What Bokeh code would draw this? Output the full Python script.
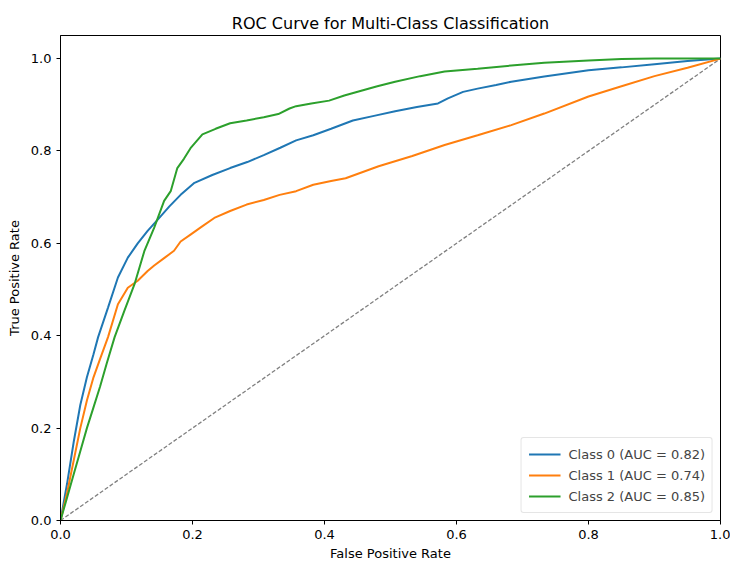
from bokeh.plotting import figure
from bokeh.models import Range1d, FixedTicker, PrintfTickFormatter, Legend, LegendItem
from bokeh.embed import file_html
from bokeh.resources import INLINE

fpr0 = [0, 0.01, 0.02, 0.03, 0.04, 0.05, 0.057, 0.072, 0.087, 0.102, 0.117, 0.132, 0.147, 0.165, 0.182, 0.203, 0.23, 0.257, 0.283, 0.308, 0.333, 0.357, 0.383, 0.41, 0.443, 0.475, 0.507, 0.54, 0.572, 0.587, 0.61, 0.632, 0.66, 0.683, 0.733, 0.8, 0.85, 0.9, 0.95, 1.0]
tpr0 = [0, 0.08, 0.17, 0.25, 0.31, 0.36, 0.397, 0.461, 0.526, 0.569, 0.60, 0.627, 0.651, 0.68, 0.705, 0.731, 0.748, 0.763, 0.776, 0.791, 0.807, 0.823, 0.834, 0.848, 0.866, 0.876, 0.886, 0.895, 0.903, 0.914, 0.928, 0.935, 0.943, 0.950, 0.961, 0.975, 0.981, 0.988, 0.995, 1.0]

fpr1 = [0, 0.01, 0.02, 0.03, 0.04, 0.05, 0.06, 0.072, 0.087, 0.102, 0.117, 0.132, 0.142, 0.157, 0.172, 0.182, 0.197, 0.213, 0.233, 0.257, 0.282, 0.308, 0.332, 0.357, 0.383, 0.41, 0.432, 0.482, 0.533, 0.582, 0.632, 0.683, 0.733, 0.8, 0.85, 0.9, 0.95, 1.0]
tpr1 = [0, 0.06, 0.13, 0.2, 0.26, 0.31, 0.35, 0.397, 0.468, 0.504, 0.519, 0.54, 0.552, 0.568, 0.584, 0.604, 0.619, 0.635, 0.655, 0.670, 0.684, 0.694, 0.705, 0.713, 0.727, 0.735, 0.741, 0.767, 0.789, 0.813, 0.834, 0.856, 0.881, 0.918, 0.94, 0.962, 0.98, 1.0]

fpr2 = [0, 0.01, 0.02, 0.03, 0.04, 0.05, 0.06, 0.07, 0.082, 0.097, 0.112, 0.127, 0.142, 0.157, 0.167, 0.177, 0.187, 0.197, 0.215, 0.235, 0.257, 0.282, 0.308, 0.33, 0.347, 0.357, 0.38, 0.407, 0.43, 0.457, 0.48, 0.507, 0.545, 0.582, 0.632, 0.683, 0.733, 0.8, 0.85, 0.9, 1.0]
tpr2 = [0, 0.05, 0.1, 0.15, 0.2, 0.245, 0.29, 0.34, 0.397, 0.455, 0.511, 0.583, 0.634, 0.692, 0.713, 0.763, 0.783, 0.806, 0.836, 0.848, 0.860, 0.866, 0.873, 0.88, 0.892, 0.897, 0.903, 0.909, 0.92, 0.931, 0.94, 0.950, 0.962, 0.972, 0.978, 0.985, 0.991, 0.996, 0.999, 1.0, 1.0]

labels = ["Class 0 (AUC = 0.82)", "Class 1 (AUC = 0.74)", "Class 2 (AUC = 0.85)"]
colors = ["#1f77b4", "#ff7f0e", "#2ca02c"]
diag = [0, 1]
ticks = [0.0, 0.2, 0.4, 0.6, 0.8, 1.0]

FONT = "DejaVu Sans"

p = figure(width=730, height=563, output_backend="svg", toolbar_location=None,
           x_range=Range1d(0, 1), y_range=Range1d(0, 1.05),
           title="ROC Curve for Multi-Class Classification",
           min_border_left=60, min_border_right=10, min_border_top=35, min_border_bottom=42)
p.title.align = "center"
p.title.text_font = FONT
p.title.text_font_size = "16px"
p.title.text_font_style = "normal"
p.title.text_color = "#000000"
p.title.standoff = 6

p.grid.visible = False
p.outline_line_color = "#000000"
p.outline_line_width = 1

for ax in (p.xaxis[0], p.yaxis[0]):
    ax.ticker = FixedTicker(ticks=ticks)
    ax.formatter = PrintfTickFormatter(format="%.1f")
    ax.major_label_text_font = FONT
    ax.major_label_text_font_size = "13px"
    ax.major_label_text_color = "#000000"
    ax.axis_label_text_font = FONT
    ax.axis_label_text_font_size = "13px"
    ax.axis_label_text_font_style = "normal"
    ax.axis_label_text_color = "#000000"
    ax.minor_tick_line_color = None
    ax.major_tick_out = 4
    ax.major_tick_in = 0
    ax.axis_line_color = "#000000"
    ax.major_tick_line_color = "#000000"
p.xaxis.axis_label = "False Positive Rate"
p.yaxis.axis_label = "True Positive Rate"
p.xaxis.axis_label_standoff = 4
p.yaxis.axis_label_standoff = 6

p.line(diag, diag, line_color="#808080", line_dash="4 2", line_width=1.3)

r0 = p.line(fpr0, tpr0, line_color=colors[0], line_width=2)
r1 = p.line(fpr1, tpr1, line_color=colors[1], line_width=2)
r2 = p.line(fpr2, tpr2, line_color=colors[2], line_width=2)

legend = Legend(items=[LegendItem(label=labels[0], renderers=[r0]),
                       LegendItem(label=labels[1], renderers=[r1]),
                       LegendItem(label=labels[2], renderers=[r2])],
                location="bottom_right")
legend.label_text_font = FONT
legend.label_text_font_size = "13px"
legend.border_line_color = "#cccccc"
legend.border_radius = 3
legend.glyph_width = 32
legend.glyph_height = 18
legend.label_height = 18
legend.spacing = 3
legend.padding = 7
legend.margin = 7
legend.label_standoff = 8
p.add_layout(legend)

open("out.html", "w").write(file_html(p, INLINE))
